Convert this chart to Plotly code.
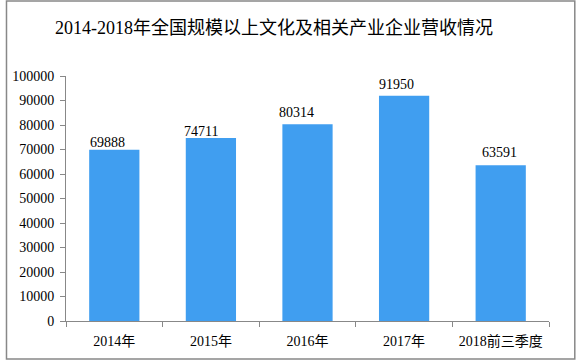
import plotly.graph_objects as go

categories = ["2014年", "2015年", "2016年", "2017年", "2018前三季度"]
values = [69888, 74711, 80314, 91950, 63591]
title = "2014-2018年全国规模以上文化及相关产业企业营收情况"

# label nudges (pixels) as seen in the reference
label_xshift = [-7, -10, -11, -8, -1]
label_yshift = [-2, -3, 2, 2, 3]

font_family = "Liberation Serif, Noto Sans CJK SC, serif"

fig = go.Figure(go.Bar(
    x=categories, y=values,
    marker=dict(color="#409EF0", line=dict(width=0)),
    hoverinfo="x+y",
))

for c, v, dx, dy in zip(categories, values, label_xshift, label_yshift):
    fig.add_annotation(x=c, y=v, text=str(v), showarrow=False,
                       xanchor="center", yanchor="bottom",
                       xshift=dx, yshift=dy,
                       font=dict(family=font_family, size=14, color="#000"))

fig.update_layout(
    width=577, height=361,
    margin=dict(l=62, r=28, t=76, b=40),
    paper_bgcolor="white", plot_bgcolor="white",
    bargap=0.48,
    showlegend=False,
    title=dict(text=title, x=0.475, xanchor="center", y=0.923, yanchor="middle",
               font=dict(family=font_family, size=18, color="#000")),
    xaxis=dict(showline=True, linecolor="#888", linewidth=1, ticks="outside",
               tickson="boundaries", ticklen=5, tickcolor="#888",
               tickfont=dict(family=font_family, size=14, color="#000"),
               ticklabelstandoff=7, showgrid=False),
    yaxis=dict(range=[0, 100000], dtick=10000, showline=True, linecolor="#888",
               linewidth=1, ticks="outside", ticklen=5, tickcolor="#888",
               tickfont=dict(family=font_family, size=14, color="#000"),
               ticklabelstandoff=3, showgrid=False, zeroline=False, tickformat="d"),
    shapes=[dict(type="rect", xref="paper", yref="paper",
                 x0=-0.1232, x1=1.0534, y0=-0.155, y1=1.306,
                 line=dict(color="#888", width=1.5))],
)

fig.write_html("out.html", config={"displayModeBar": False},
               post_script="document.body.style.margin='0';")
